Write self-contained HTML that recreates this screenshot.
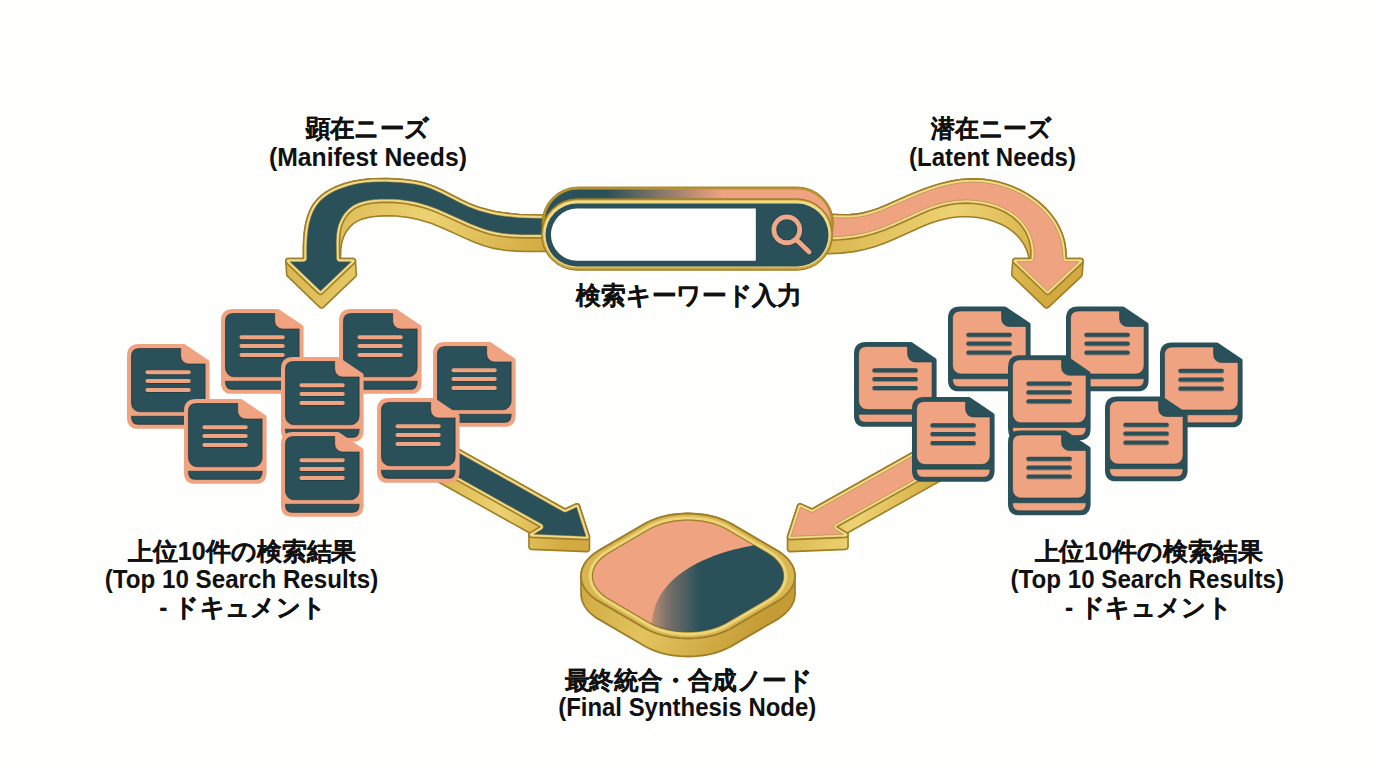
<!DOCTYPE html>
<html><head><meta charset="utf-8"><style>
html,body{margin:0;padding:0;background:#fefefd;width:1376px;height:768px;overflow:hidden;position:relative;font-family:"Liberation Sans",sans-serif}
</style></head><body>
<svg width="1376" height="768" viewBox="0 0 1376 768" style="position:absolute;left:0;top:0">
<defs>
<linearGradient id="goldSide" x1="0" y1="0" x2="1" y2="0.3">
<stop offset="0" stop-color="#c8a038"/><stop offset="0.5" stop-color="#e2c45e"/><stop offset="1" stop-color="#c49b34"/>
</linearGradient>
<linearGradient id="goldSideA" x1="0" y1="0" x2="1" y2="0.2">
<stop offset="0" stop-color="#d4ae45"/><stop offset="0.55" stop-color="#ecd272"/><stop offset="1" stop-color="#d2aa40"/>
</linearGradient>
<linearGradient id="barGrad" x1="543" y1="0" x2="833" y2="0" gradientUnits="userSpaceOnUse">
<stop offset="0" stop-color="#2a5159"/><stop offset="0.22" stop-color="#2a5159"/><stop offset="0.62" stop-color="#f0a380"/><stop offset="1" stop-color="#f0a380"/>
</linearGradient>
<linearGradient id="paneGrad" x1="650" y1="0" x2="700" y2="0" gradientUnits="userSpaceOnUse"><stop offset="0" stop-color="#2a5159" stop-opacity="0.22"/><stop offset="0.35" stop-color="#2a5159" stop-opacity="0.6"/><stop offset="1" stop-color="#2a5159" stop-opacity="1"/></linearGradient>
<clipPath id="paneClip"><path d="M727.21,529.57 L721.75,526.76 L718.81,525.53 L712.52,523.40 L702.35,521.16 L691.63,520.12 L684.37,520.12 L673.65,521.16 L663.48,523.40 L657.19,525.53 L654.25,526.76 L648.79,529.57 L608.64,553.09 L603.86,556.28 L601.74,558.01 L598.12,561.69 L596.62,563.62 L595.34,565.61 L593.47,569.72 L592.52,573.93 L592.52,578.18 L593.47,582.39 L594.29,584.46 L595.34,586.49 L598.12,590.42 L601.74,594.10 L606.16,597.47 L648.79,622.54 L654.25,625.34 L660.28,627.70 L670.18,630.33 L677.18,631.43 L684.37,631.98 L691.63,631.98 L698.82,631.43 L705.82,630.33 L712.52,628.70 L718.81,626.58 L724.56,623.99 L727.21,622.54 L767.36,599.02 L772.14,595.82 L776.17,592.29 L779.38,588.48 L780.66,586.49 L782.53,582.39 L783.48,578.18 L783.48,573.93 L782.53,569.72 L781.71,567.65 L780.66,565.61 L777.88,561.69 L774.26,558.01 L772.14,556.28 L767.36,553.09Z"/></clipPath>
<filter id="blur8" x="-50%" y="-50%" width="200%" height="200%"><feGaussianBlur stdDeviation="9"/></filter>
<g id="doc_L">
<path d="M2.25,12 Q2.25,2.25 12,2.25 H57 L80.35,18.2 V73.5 Q80.35,82.6 71.5,82.6 H11 Q2.25,82.6 2.25,73.5 Z" fill="#f0a380" stroke="#f0a380" stroke-width="4.5" stroke-linejoin="round"/>
<path d="M4.5,12.5 Q4.5,4.5 12.5,4.5 H53.6 V12 A8,8 0 0 0 61.6,20 H78.1 V59 A8.5,8.5 0 0 1 69.6,67.6 H13 A8.5,8.5 0 0 1 4.5,59 Z M4.5,72.3 H78.1 V73 Q78.1,80.35 71,80.35 H11.5 Q4.5,80.35 4.5,73 Z" fill="#2a5159" stroke="#10262b" stroke-width="1.1" stroke-opacity="0.55"/>
<path d="M20.4,28.9 H61.8 M20.4,37.7 H61.8 M20.4,46.7 H61.8" stroke="#10262b" stroke-opacity="0.35" stroke-width="4.6" stroke-linecap="round"/>
<path d="M20.4,28.2 H61.8 M20.4,37 H61.8 M20.4,46 H61.8" stroke="#f0a380" stroke-width="4" stroke-linecap="round"/>
</g>
<g id="doc_R">
<path d="M2.25,12 Q2.25,2.25 12,2.25 H57 L80.35,18.2 V73.5 Q80.35,82.6 71.5,82.6 H11 Q2.25,82.6 2.25,73.5 Z" fill="#2a5159" stroke="#2a5159" stroke-width="4.5" stroke-linejoin="round"/>
<path d="M4.5,12.5 Q4.5,4.5 12.5,4.5 H53.6 V12 A8,8 0 0 0 61.6,20 H78.1 V59 A8.5,8.5 0 0 1 69.6,67.6 H13 A8.5,8.5 0 0 1 4.5,59 Z M4.5,72.3 H78.1 V73 Q78.1,80.35 71,80.35 H11.5 Q4.5,80.35 4.5,73 Z" fill="#f0a380" stroke="#1c3a41" stroke-width="1.1" stroke-opacity="0.55"/>
<path d="M20.4,28.9 H61.8 M20.4,37.7 H61.8 M20.4,46.7 H61.8" stroke="#1c3a41" stroke-opacity="0.35" stroke-width="4.6" stroke-linecap="round"/>
<path d="M20.4,28.2 H61.8 M20.4,37 H61.8 M20.4,46 H61.8" stroke="#2a5159" stroke-width="4" stroke-linecap="round"/>
</g>
</defs>
<path d="M287.97,258.51 L286.44,259.24 L285.73,260.79 L286.74,274.78 L287.17,275.93 L319.87,307.34 L320.89,307.94 L322.07,307.99 L323.33,307.34 L355.71,276.30 L356.27,275.50 L356.47,274.29 L356.26,273.48 L355.47,260.79 L355.20,259.84 L354.38,258.93 L353.23,258.51 L340.46,258.50 L340.80,248.96 L341.65,243.33 L342.75,239.24 L344.83,234.21 L346.88,230.67 L350.16,226.56 L353.13,223.85 L356.42,221.62 L361.29,219.38 L365.32,218.15 L370.90,217.03 L376.59,216.30 L383.68,215.83 L389.36,215.76 L396.36,216.05 L408.72,217.48 L419.41,219.72 L431.12,223.36 L442.64,228.00 L465.47,238.37 L474.44,242.17 L484.81,245.90 L494.08,248.41 L504.95,250.23 L516.04,251.14 L527.22,251.44 L552.32,251.39 L563.55,251.74 L564.48,251.52 L565.25,250.98 L565.77,250.18 L565.96,249.24 L565.99,230.93 L564.94,216.94 L564.07,215.49 L562.71,214.94 L537.28,215.07 L519.26,214.45 L511.12,213.78 L503.05,212.81 L495.06,211.46 L488.74,210.08 L477.90,206.94 L468.84,203.40 L461.45,199.92 L442.43,190.18 L433.47,186.16 L424.33,183.02 L416.39,181.21 L409.97,180.23 L403.45,179.54 L387.07,178.59 L373.99,178.72 L367.48,179.18 L361.00,179.95 L354.55,181.09 L348.14,182.62 L341.78,184.58 L335.58,187.01 L329.71,189.91 L325.49,192.50 L320.46,196.34 L317.07,199.64 L313.20,204.60 L310.12,210.15 L307.75,216.19 L306.00,222.58 L304.78,229.27 L303.87,237.72 L303.46,247.78 L303.51,258.50Z" fill="url(#goldSideA)" stroke="#a07e28" stroke-width="1.6" stroke-linejoin="round"/>
<path d="M303.51,258.50 L287.73,258.55 L286.82,258.93 L286.13,259.63 L285.74,261.28 L286.49,262.80 L318.87,293.84 L320.36,294.53 L321.75,294.26 L354.71,262.80 L355.36,261.77 L355.44,260.54 L355.07,259.63 L354.38,258.93 L353.47,258.55 L339.67,258.50 L339.46,242.67 L339.96,234.00 L340.65,229.79 L341.74,225.78 L342.71,223.15 L344.46,219.51 L346.62,216.12 L349.16,213.06 L352.08,210.39 L354.28,208.81 L357.76,206.91 L361.60,205.43 L365.67,204.33 L369.88,203.53 L375.57,202.81 L381.26,202.39 L392.58,202.39 L405.02,203.56 L417.07,205.89 L426.25,208.52 L435.26,211.83 L444.19,215.62 L468.30,226.54 L481.22,231.55 L489.08,233.94 L495.78,235.47 L502.61,236.56 L510.87,237.39 L524.81,237.92 L548.56,237.87 L563.25,238.11 L564.41,237.30 L564.94,235.98 L564.94,216.94 L564.07,215.49 L562.71,214.94 L537.28,215.07 L519.26,214.45 L511.12,213.78 L503.05,212.81 L495.06,211.46 L488.74,210.08 L477.90,206.94 L468.84,203.40 L461.45,199.92 L442.43,190.18 L433.47,186.16 L424.33,183.02 L416.39,181.21 L409.97,180.23 L403.44,179.53 L393.63,178.85 L385.45,178.56 L372.36,178.80 L365.86,179.34 L359.42,180.20 L351.38,181.79 L344.95,183.54 L337.15,186.33 L331.16,189.13 L325.55,192.46 L321.61,195.37 L317.07,199.64 L314.03,203.38 L311.52,207.39 L308.82,213.19 L306.80,219.35 L305.33,225.88 L304.35,232.60 L303.76,239.41 L303.46,247.80Z" fill="#f1da88" stroke="#a07e28" stroke-width="1.6" stroke-linejoin="round"/>
<path d="M289.96,261.70 L320.60,291.07 L351.24,261.70 L339.20,261.66 L337.50,260.85 L336.56,259.23 L336.26,242.65 L336.78,233.62 L337.53,229.12 L338.68,224.84 L339.78,221.88 L341.63,218.02 L344.03,214.23 L346.80,210.91 L349.06,208.73 L352.55,206.12 L355.20,204.60 L359.30,202.84 L363.58,201.54 L369.37,200.37 L375.25,199.62 L381.11,199.19 L392.75,199.19 L398.46,199.58 L405.47,200.39 L412.36,201.57 L417.82,202.78 L427.23,205.48 L436.44,208.85 L445.49,212.69 L469.56,223.60 L482.22,228.51 L488.61,230.50 L495.08,232.07 L501.66,233.20 L508.37,233.97 L522.07,234.68 L549.97,234.68 L561.76,235.00 L561.79,218.14 L537.24,218.27 L519.06,217.64 L504.22,216.20 L496.08,214.91 L489.58,213.57 L478.46,210.50 L469.07,206.99 L460.03,202.79 L441.03,193.06 L430.84,188.56 L423.44,186.09 L414.28,184.09 L401.56,182.59 L385.40,181.76 L372.58,182.00 L366.23,182.52 L359.92,183.36 L353.65,184.55 L347.44,186.13 L341.33,188.14 L335.45,190.58 L329.91,193.49 L326.07,195.99 L322.53,198.79 L319.38,201.85 L315.86,206.38 L313.01,211.53 L310.78,217.20 L309.11,223.32 L307.94,229.71 L307.07,237.92 L306.66,247.83 L306.71,258.54 L306.42,259.83 L305.43,261.05 L303.98,261.66Z" fill="#2a5159" stroke="#8f7424" stroke-opacity="0.55" stroke-width="0.8"/>
<path d="M1014.97,258.51 L1013.44,259.24 L1012.76,260.54 L1011.73,274.29 L1012.17,275.93 L1044.89,307.36 L1045.98,307.97 L1047.23,307.98 L1048.33,307.38 L1081.40,276.32 L1082.13,275.05 L1083.19,261.05 L1082.91,259.85 L1082.09,258.93 L1080.93,258.51 L1066.15,258.50 L1065.87,251.20 L1065.14,244.99 L1063.84,239.03 L1061.45,231.94 L1058.91,226.44 L1055.14,220.03 L1051.58,215.11 L1046.68,209.42 L1042.32,205.14 L1036.48,200.23 L1030.25,195.81 L1023.60,191.83 L1016.71,188.38 L1009.53,185.43 L1002.16,183.00 L994.62,181.10 L983.98,179.40 L973.35,178.82 L962.83,179.36 L950.98,181.15 L945.06,182.47 L937.78,184.45 L924.75,188.80 L910.49,194.50 L882.44,206.78 L873.95,209.95 L866.76,212.10 L857.92,213.91 L850.33,214.62 L842.57,214.69 L826.97,214.27 L817.97,214.64 L816.11,215.14 L815.43,215.82 L815.06,216.72 L814.01,230.70 L813.98,250.98 L814.51,252.53 L815.89,253.42 L828.25,253.69 L841.19,253.11 L853.98,251.60 L865.37,249.34 L875.26,246.59 L884.98,243.08 L894.54,239.03 L920.53,227.17 L928.88,223.79 L936.14,221.27 L944.75,218.92 L952.30,217.53 L960.01,216.79 L967.78,216.70 L975.65,217.28 L982.20,218.28 L988.70,219.77 L994.99,221.75 L1001.04,224.26 L1005.66,226.66 L1010.99,230.14 L1014.92,233.35 L1017.64,236.02 L1020.11,238.88 L1022.34,241.93 L1024.30,245.13 L1026.01,248.52 L1027.43,252.06 L1029.16,258.50Z" fill="url(#goldSideA)" stroke="#a07e28" stroke-width="1.6" stroke-linejoin="round"/>
<path d="M814.98,237.48 L815.51,239.03 L816.23,239.65 L817.13,239.96 L830.53,240.17 L839.59,239.79 L847.31,239.12 L855.00,238.09 L862.60,236.69 L873.83,233.84 L884.77,230.06 L895.53,225.54 L922.72,213.17 L931.08,209.85 L939.58,207.03 L948.27,204.89 L957.13,203.58 L966.18,203.16 L974.04,203.52 L981.90,204.54 L988.42,205.93 L995.99,208.25 L1002.04,210.76 L1007.77,213.82 L1013.01,217.41 L1017.74,221.59 L1021.09,225.35 L1024.01,229.45 L1025.92,232.77 L1027.99,237.36 L1029.21,241.00 L1030.35,246.04 L1030.82,249.95 L1030.95,253.99 L1030.67,258.50 L1014.73,258.55 L1013.82,258.93 L1013.00,259.84 L1012.73,260.79 L1012.84,261.77 L1013.49,262.80 L1046.51,294.29 L1047.98,294.53 L1049.33,293.88 L1082.40,262.82 L1083.17,261.30 L1082.78,259.64 L1082.09,258.93 L1081.18,258.55 L1066.15,258.50 L1065.73,249.60 L1064.57,242.05 L1062.51,234.76 L1059.61,227.83 L1055.92,221.24 L1050.67,213.96 L1045.59,208.30 L1038.87,202.13 L1032.80,197.53 L1026.32,193.37 L1019.51,189.70 L1012.43,186.54 L1005.13,183.91 L997.63,181.79 L990.07,180.24 L982.46,179.25 L971.88,178.83 L961.37,179.51 L950.95,181.16 L939.23,184.03 L929.06,187.26 L917.59,191.56 L906.24,196.32 L886.64,205.03 L878.21,208.43 L869.65,211.30 L862.37,213.13 L856.40,214.12 L850.31,214.62 L844.13,214.71 L825.47,214.28 L816.76,214.82 L815.57,215.63 L815.02,216.96Z" fill="#f1da88" stroke="#a07e28" stroke-width="1.6" stroke-linejoin="round"/>
<path d="M818.18,236.82 L830.47,236.97 L841.91,236.42 L853.24,235.13 L864.38,233.02 L874.09,230.42 L883.61,227.07 L894.23,222.61 L921.48,210.22 L929.99,206.84 L938.69,203.96 L947.64,201.75 L956.84,200.39 L966.20,199.96 L975.64,200.45 L983.78,201.63 L990.52,203.17 L997.10,205.25 L1003.46,207.89 L1009.42,211.08 L1014.97,214.88 L1019.98,219.30 L1023.62,223.38 L1026.70,227.71 L1028.76,231.29 L1030.96,236.17 L1032.29,240.15 L1033.50,245.47 L1034.01,249.71 L1034.15,254.08 L1033.82,259.02 L1033.39,260.18 L1032.80,260.89 L1031.13,261.66 L1016.96,261.70 L1047.62,291.09 L1078.92,261.70 L1066.00,261.69 L1064.79,261.39 L1063.59,260.42 L1062.99,259.00 L1062.55,249.94 L1061.44,242.68 L1059.49,235.80 L1056.73,229.22 L1053.23,222.97 L1048.18,215.98 L1043.32,210.55 L1036.84,204.61 L1030.96,200.14 L1024.69,196.12 L1018.09,192.57 L1011.22,189.51 L1004.14,186.95 L996.90,184.91 L989.55,183.40 L982.19,182.44 L971.91,182.03 L961.72,182.69 L951.61,184.29 L940.11,187.10 L930.12,190.27 L918.78,194.53 L880.76,210.88 L872.03,213.93 L864.49,215.94 L856.85,217.29 L850.45,217.82 L842.52,217.89 L826.99,217.47 L818.21,217.83Z" fill="#f0a380" stroke="#8f7424" stroke-opacity="0.55" stroke-width="0.8"/>
<rect x="543.2" y="188.2" width="289" height="70" rx="35" fill="url(#barGrad)" stroke="#b8952f" stroke-width="2.6"/>
<rect x="542" y="187" width="291.4" height="72.4" rx="36.2" fill="none" stroke="#a07e28" stroke-width="0.9"/>
<rect x="541.7" y="199" width="290.6" height="71" rx="35.5" fill="#cfaa45" stroke="#a07e28" stroke-width="1.3"/>
<rect x="543.3" y="200.4" width="287.4" height="66.8" rx="33.4" fill="#f1da88"/>
<rect x="545.5" y="203.5" width="283" height="63" rx="31.5" fill="#2a5159"/>
<path d="M577,208.6 H755.8 V260.7 H577 A26,26 0 0 1 577,208.6 Z" fill="#ffffff"/>
<g fill="none" stroke-linecap="round"><circle cx="786.8" cy="229.8" r="12.95" stroke="#1f4048" stroke-width="6.2"/><path d="M797,240.2 L809.2,252" stroke="#1f4048" stroke-width="6.2"/><circle cx="786.8" cy="229.8" r="12.95" stroke="#eea98a" stroke-width="4.8"/><path d="M797,240.2 L809.2,252" stroke="#eea98a" stroke-width="4.7"/></g>
<path d="M430.03,433.23 L428.81,433.27 L427.93,433.73 L427.19,434.71 L427.00,435.67 L427.00,474.13 L427.29,475.29 L428.08,476.19 L529.71,533.05 L529.18,533.78 L528.95,534.73 L528.95,546.98 L529.45,548.35 L530.39,549.12 L531.34,549.35 L586.91,551.65 L588.08,551.42 L589.00,550.66 L589.51,549.33 L589.45,536.61 L579.37,505.47 L578.52,504.27 L577.40,503.78 L576.18,503.88 L565.00,509.00Z" fill="url(#goldSideA)" stroke="#a07e28" stroke-width="1.6" stroke-linejoin="round"/>
<path d="M430.73,433.49 L429.54,433.17 L428.35,433.46 L427.43,434.27 L427.01,435.43 L427.00,462.13 L427.18,463.07 L427.71,463.88 L539.99,526.80 L529.59,533.17 L529.09,534.01 L528.95,534.98 L529.19,535.93 L529.97,536.87 L531.34,537.35 L586.91,539.65 L588.08,539.42 L589.14,538.47 L589.48,537.57 L589.39,536.38 L579.37,505.47 L578.32,504.13 L577.15,503.75 L576.18,503.88 L565.00,509.00Z" fill="#f1da88" stroke="#a07e28" stroke-width="1.6" stroke-linejoin="round"/>
<path d="M430.20,436.87 L430.20,461.72 L541.95,524.27 L542.78,525.23 L543.17,526.43 L543.07,527.70 L542.48,528.82 L541.59,529.58 L533.81,534.25 L586.04,536.41 L576.57,507.21 L566.20,511.96 L565.02,512.20 L563.56,511.86Z" fill="#2a5159" stroke="#8f7424" stroke-opacity="0.55" stroke-width="0.8"/>
<path d="M949.95,435.18 L949.42,434.07 L948.43,433.35 L947.21,433.19 L946.27,433.49 L812.00,509.00 L800.82,503.88 L799.60,503.78 L798.48,504.27 L797.63,505.47 L787.55,536.61 L787.49,549.33 L788.00,550.66 L788.92,551.42 L790.09,551.65 L845.66,549.35 L847.03,548.87 L847.81,547.93 L848.05,546.98 L848.05,534.73 L847.82,533.78 L847.29,533.05 L949.29,475.88 L949.82,475.07 L950.00,474.13Z" fill="url(#goldSideA)" stroke="#a07e28" stroke-width="1.6" stroke-linejoin="round"/>
<path d="M946.27,433.49 L947.46,433.17 L948.65,433.46 L949.57,434.27 L949.99,435.43 L950.00,462.13 L949.82,463.07 L949.29,463.88 L837.01,526.80 L847.41,533.17 L847.91,534.01 L848.05,534.98 L847.81,535.93 L847.03,536.87 L845.66,537.35 L790.09,539.65 L788.92,539.42 L787.86,538.47 L787.52,537.57 L787.61,536.38 L797.63,505.47 L798.68,504.13 L799.85,503.75 L800.82,503.88 L812.00,509.00Z" fill="#f1da88" stroke="#a07e28" stroke-width="1.6" stroke-linejoin="round"/>
<path d="M790.96,536.41 L843.19,534.25 L835.41,529.58 L834.52,528.82 L833.93,527.70 L833.83,526.43 L834.22,525.23 L835.05,524.27 L946.80,461.72 L946.80,436.87 L813.44,511.86 L811.98,512.20 L810.80,511.96 L800.43,507.21Z" fill="#f0a380" stroke="#8f7424" stroke-opacity="0.55" stroke-width="0.8"/>
<use href="#doc_L" x="127" y="344"/>
<use href="#doc_L" x="221" y="309"/>
<use href="#doc_L" x="339" y="309"/>
<use href="#doc_L" x="433" y="342"/>
<use href="#doc_L" x="184" y="399"/>
<use href="#doc_L" x="281" y="357"/>
<use href="#doc_L" x="377" y="398"/>
<use href="#doc_L" x="281" y="432"/>
<use href="#doc_R" x="854" y="342"/>
<use href="#doc_R" x="948" y="306.5"/>
<use href="#doc_R" x="1066" y="306.5"/>
<use href="#doc_R" x="1160" y="342.5"/>
<use href="#doc_R" x="912" y="397"/>
<use href="#doc_R" x="1008" y="355.2"/>
<use href="#doc_R" x="1105" y="396.5"/>
<use href="#doc_R" x="1008" y="430.5"/>
<path d="M722.48,519.61 L715.45,517.24 L707.95,515.42 L704.06,514.74 L696.10,513.81 L688.00,513.50 L679.90,513.81 L671.94,514.74 L664.25,516.26 L656.97,518.36 L650.22,520.99 L647.08,522.50 L599.18,550.37 L593.82,553.93 L591.46,555.86 L587.40,559.97 L584.29,564.35 L582.19,568.93 L581.53,571.27 L581.00,576.00 L581.13,596.37 L582.19,601.07 L584.29,605.65 L587.40,610.03 L589.31,612.12 L593.82,616.07 L596.40,617.90 L647.08,647.50 L653.52,650.39 L660.55,652.76 L668.05,654.58 L671.94,655.26 L679.90,656.19 L688.00,656.50 L692.06,656.42 L696.10,656.19 L704.06,655.26 L707.95,654.58 L715.45,652.76 L722.48,650.39 L728.92,647.50 L731.88,645.88 L776.82,619.63 L779.60,617.90 L784.54,614.14 L788.60,610.03 L791.71,605.65 L793.81,601.07 L794.47,598.73 L795.00,594.00 L794.87,573.63 L793.81,568.93 L791.71,564.35 L788.60,559.97 L786.69,557.88 L784.54,555.86 L779.60,552.10 L731.88,524.12 L728.92,522.50Z" fill="url(#goldSide)" stroke="#a07e28" stroke-width="1.8"/>
<path d="M731.88,524.12 L725.78,520.99 L722.48,519.61 L715.45,517.24 L707.95,515.42 L704.06,514.74 L696.10,513.81 L688.00,513.50 L683.94,513.58 L679.90,513.81 L671.94,514.74 L668.05,515.42 L660.55,517.24 L653.52,519.61 L650.22,520.99 L644.12,524.12 L599.18,550.37 L593.82,553.93 L591.46,555.86 L587.40,559.97 L585.72,562.13 L584.29,564.35 L582.19,568.93 L581.13,573.63 L581.13,578.37 L582.19,583.07 L583.11,585.38 L584.29,587.65 L587.40,592.03 L591.46,596.14 L596.40,599.90 L644.12,627.88 L650.22,631.01 L656.97,633.64 L664.25,635.74 L671.94,637.26 L679.90,638.19 L688.00,638.50 L696.10,638.19 L704.06,637.26 L707.95,636.58 L715.45,634.76 L722.48,632.39 L728.92,629.50 L731.88,627.88 L776.82,601.63 L782.18,598.07 L784.54,596.14 L788.60,592.03 L791.71,587.65 L793.81,583.07 L794.87,578.37 L794.87,573.63 L793.81,568.93 L792.89,566.62 L791.71,564.35 L788.60,559.97 L784.54,555.86 L782.18,553.93 L776.82,550.37Z" fill="#d9b750" stroke="#a07e28" stroke-width="1.8"/>
<path d="M768.53,551.22 L725.51,526.13 L719.66,523.50 L713.09,521.28 L706.30,519.63 L702.65,518.98 L691.75,517.93 L680.64,518.13 L673.26,518.99 L662.91,521.28 L659.52,522.34 L653.39,524.74 L647.68,527.67 L607.47,551.22 L602.58,554.49 L598.32,558.21 L596.38,560.34 L593.49,564.42 L592.25,566.83 L590.76,571.22 L590.32,573.80 L590.32,578.30 L590.76,580.89 L592.25,585.27 L593.49,587.68 L596.49,591.90 L600.35,595.80 L604.99,599.33 L647.73,624.47 L653.39,627.37 L659.62,629.80 L666.31,631.73 L676.88,633.61 L684.33,634.18 L691.75,634.18 L702.65,633.13 L709.69,631.73 L716.38,629.80 L722.61,627.37 L728.32,624.44 L768.47,600.92 L773.53,597.53 L777.68,593.89 L779.51,591.90 L782.51,587.68 L784.65,582.99 L785.68,578.30 L785.65,573.56 L785.24,571.22 L783.75,566.83 L781.12,562.28 L779.51,560.20 L775.76,556.41 L773.42,554.49Z" fill="none" stroke="#ecd47a" stroke-width="3"/>
<path d="M727.21,529.57 L721.75,526.76 L718.81,525.53 L712.52,523.40 L702.35,521.16 L691.63,520.12 L684.37,520.12 L673.65,521.16 L663.48,523.40 L657.19,525.53 L654.25,526.76 L648.79,529.57 L608.64,553.09 L603.86,556.28 L601.74,558.01 L598.12,561.69 L596.62,563.62 L595.34,565.61 L593.47,569.72 L592.52,573.93 L592.52,578.18 L593.47,582.39 L594.29,584.46 L595.34,586.49 L598.12,590.42 L601.74,594.10 L606.16,597.47 L648.79,622.54 L654.25,625.34 L660.28,627.70 L670.18,630.33 L677.18,631.43 L684.37,631.98 L691.63,631.98 L698.82,631.43 L705.82,630.33 L712.52,628.70 L718.81,626.58 L724.56,623.99 L727.21,622.54 L767.36,599.02 L772.14,595.82 L776.17,592.29 L779.38,588.48 L780.66,586.49 L782.53,582.39 L783.48,578.18 L783.48,573.93 L782.53,569.72 L781.71,567.65 L780.66,565.61 L777.88,561.69 L774.26,558.01 L772.14,556.28 L767.36,553.09Z" fill="#f0a380" stroke="#a07e28" stroke-width="1.2"/>
<g clip-path="url(#paneClip)">
<path d="M751.8,545.8 C716,552 685,566 668,585 C656,598 652,612 651,630 L651,665 L810,665 L810,530 Z" fill="url(#paneGrad)"/>
</g>
<g font-family="'Liberation Sans', sans-serif" font-weight="bold" fill="#111"><text x="367.5" y="137" text-anchor="middle" font-size="25" textLength="124" lengthAdjust="spacingAndGlyphs" stroke="#111" stroke-width="0.18">顕在ニーズ</text>
<text x="368" y="166" text-anchor="middle" font-size="25" textLength="198" lengthAdjust="spacingAndGlyphs">(Manifest Needs)</text>
<text x="991.5" y="137" text-anchor="middle" font-size="25" textLength="121" lengthAdjust="spacingAndGlyphs" stroke="#111" stroke-width="0.18">潜在ニーズ</text>
<text x="992.5" y="166" text-anchor="middle" font-size="25" textLength="167" lengthAdjust="spacingAndGlyphs">(Latent Needs)</text>
<text x="689.2" y="304" text-anchor="middle" font-size="25" textLength="225.5" lengthAdjust="spacingAndGlyphs" stroke="#111" stroke-width="0.18">検索キーワード入力</text>
<text x="242.2" y="560" text-anchor="middle" font-size="25" textLength="228.5" lengthAdjust="spacingAndGlyphs" stroke="#111" stroke-width="0.18">上位10件の検索結果</text>
<text x="241.5" y="588" text-anchor="middle" font-size="25" textLength="273.5" lengthAdjust="spacingAndGlyphs">(Top 10 Search Results)</text>
<text x="242.8" y="616" text-anchor="middle" font-size="25" textLength="167" lengthAdjust="spacingAndGlyphs" stroke="#111" stroke-width="0.18">- ドキュメント</text>
<text x="1148.5" y="560" text-anchor="middle" font-size="25" textLength="228" lengthAdjust="spacingAndGlyphs" stroke="#111" stroke-width="0.18">上位10件の検索結果</text>
<text x="1147.2" y="588" text-anchor="middle" font-size="25" textLength="273.5" lengthAdjust="spacingAndGlyphs">(Top 10 Search Results)</text>
<text x="1148.5" y="616" text-anchor="middle" font-size="25" textLength="167" lengthAdjust="spacingAndGlyphs" stroke="#111" stroke-width="0.18">- ドキュメント</text>
<text x="688.5" y="689" text-anchor="middle" font-size="25" textLength="248" lengthAdjust="spacingAndGlyphs" stroke="#111" stroke-width="0.18">最終統合・合成ノード</text>
<text x="687.2" y="716" text-anchor="middle" font-size="25" textLength="258" lengthAdjust="spacingAndGlyphs">(Final Synthesis Node)</text></g>
</svg>
</body></html>
